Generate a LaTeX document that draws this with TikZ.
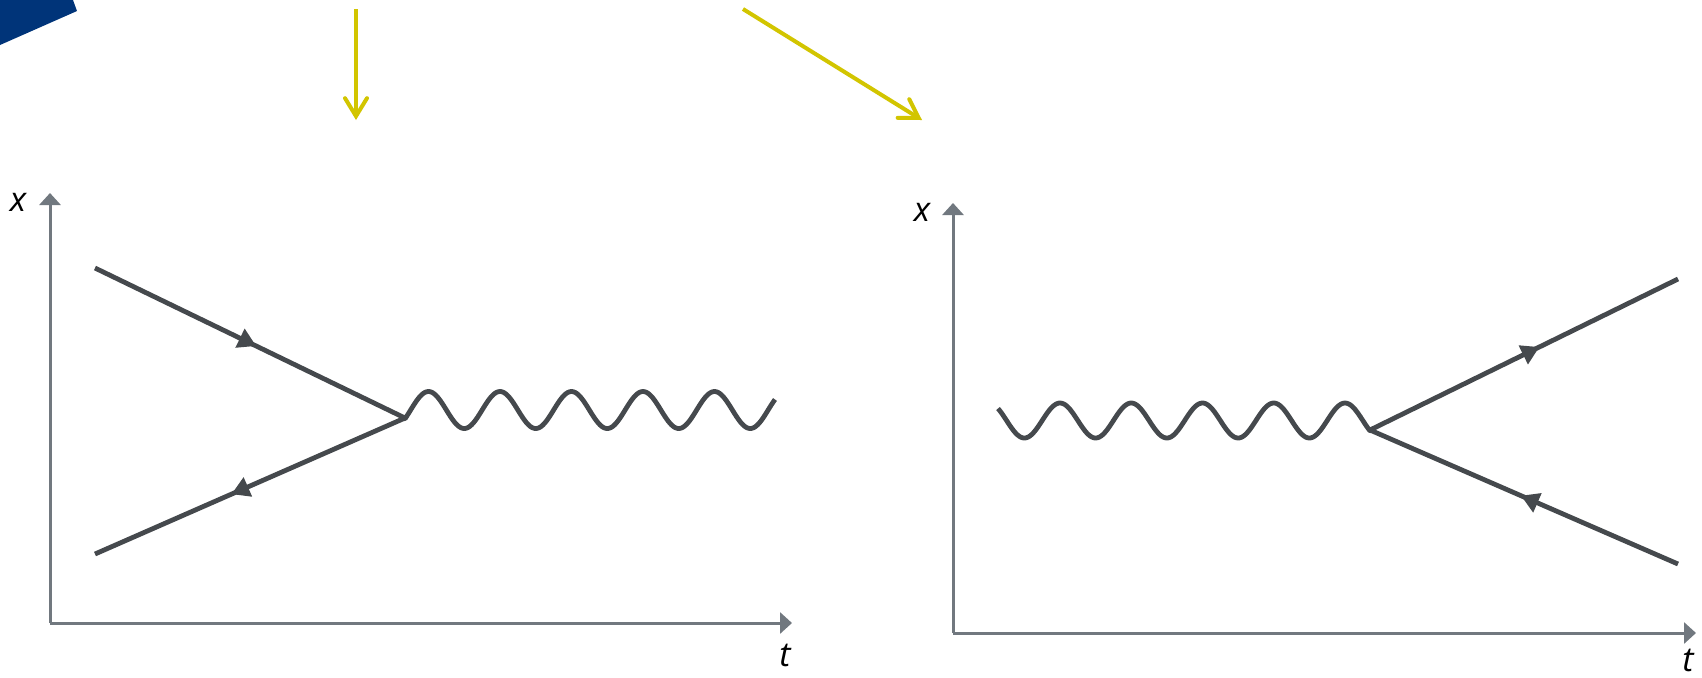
\documentclass[tikz,border=0pt]{standalone}
\usepackage{fontspec}
\setmainfont{Open Sans}
\usetikzlibrary{arrows.meta,decorations.markings}
\definecolor{axisgray}{RGB}{113,120,127}
\definecolor{linegray}{RGB}{69,73,77}
\definecolor{hlyellow}{RGB}{210,197,0}
\definecolor{corpblue}{RGB}{0,52,121}
\tikzset{
  axisline/.style={draw=axisgray, line width=1.5pt, -{Triangle[length=6pt,width=10.5pt]}},
  axislabel/.style={font=\fontsize{17}{19}\selectfont\itshape, text=black, inner sep=0pt},
  fermion/.style={draw=linegray, line width=2.4pt, postaction={decorate},
    decoration={markings, mark=at position #1 with {\arrow{Triangle[length=9pt,width=10pt]}}}},
  photon/.style={draw=linegray, line width=2.4pt, line join=round},
  pointer/.style={draw=hlyellow, line width=2pt, -{Straight Barb[length=9pt,width=11pt,line cap=round]}}
}
\begin{document}
\begin{tikzpicture}[x=0.5pt,y=-0.5pt]
\useasboundingbox (0,0) rectangle (1702,677);
% corner shape
\fill[corpblue] (0,0) -- (73,0) -- (77,11) -- (0,45) -- cycle;
% yellow pointers
\coordinate (p1s) at (356,9);
\coordinate (p1e) at (356,120);
\coordinate (p2s) at (743,9);
\coordinate (p2e) at (922,120);
\draw[pointer] (p1s) -- (p1e);
\draw[pointer] (p2s) -- (p2e);
% left diagram axes
\coordinate (lo) at (50,623);
\coordinate (ly) at (50,193);
\coordinate (lx) at (792,623);
\draw[axisline] (lo) -- (ly);
\draw[axisline] (lo) -- (lx);
\node[axislabel] (lxl) at (18,202) {x};
\node[axislabel] (ltl) at (785,655) {t};
% left fermions
\coordinate (lv) at (405,418);
\coordinate (la) at (95,268);
\coordinate (lb) at (95,554);
\draw[fermion=0.52] (la) -- (lv);
\draw[fermion=0.56] (lv) -- (lb);
% left photon
\draw[photon] (lv) -- plot[domain=405:775, samples=240] (\x,{410-18.5*cos((\x-428.5)*5.035)});
% right diagram axes
\coordinate (ro) at (953,633);
\coordinate (ry) at (953,203);
\coordinate (rx) at (1696,633);
\draw[axisline] (ro) -- (ry);
\draw[axisline] (ro) -- (rx);
\node[axislabel] (rxl) at (922,212) {x};
\node[axislabel] (rtl) at (1688,660) {t};
% right fermions
\coordinate (rv) at (1370,430);
\coordinate (ra) at (1678,279);
\coordinate (rb) at (1678,564);
\draw[fermion=0.55] (rv) -- (ra);
\draw[fermion=0.51] (rb) -- (rv);
% right photon
\draw[photon] plot[domain=998:1370, samples=240] (\x,{420.5-17.5*cos((\x-1345)*5.0526)}) -- (rv);
\end{tikzpicture}
\end{document}
